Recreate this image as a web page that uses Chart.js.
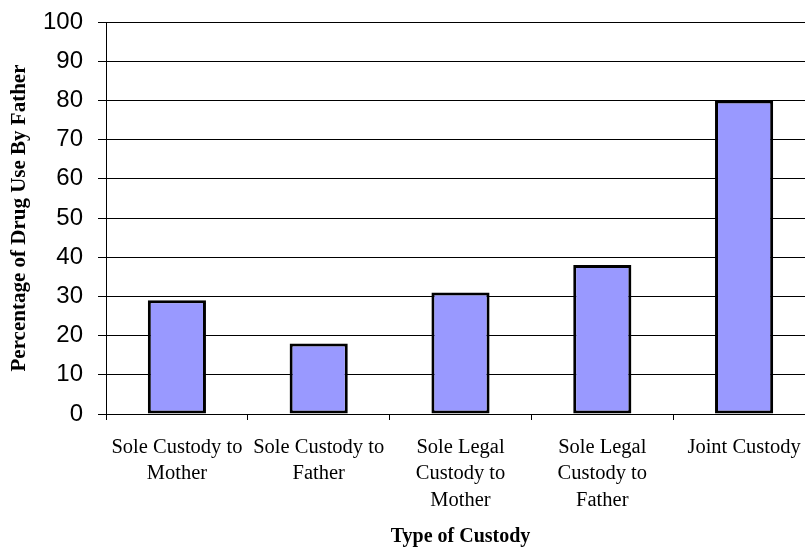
<!DOCTYPE html>
<html>
<head>
<meta charset="utf-8">
<script src="https://cdn.jsdelivr.net/npm/chart.js@4"></script>
<style>
  html, body { margin: 0; padding: 0; background: #fff; overflow: hidden; }
  #wrap { width: 805px; height: 548px; overflow: hidden; }
</style>
</head>
<body>
<div id="wrap"><canvas id="custodyChart" width="815" height="548"></canvas></div>
<script>
const categories = [
  ["Sole Custody to", "Mother"],
  ["Sole Custody to", "Father"],
  ["Sole Legal", "Custody to", "Mother"],
  ["Sole Legal", "Custody to", "Father"],
  ["Joint Custody"]
];
const drugUse = [29, 18, 31, 38, 80];
const yTicks = [0, 10, 20, 30, 40, 50, 60, 70, 80, 90, 100];

const serif = "'Liberation Serif', 'Times New Roman', serif";
const sans = "'Liberation Sans', Arial, sans-serif";

const ctx = document.getElementById("custodyChart").getContext("2d");
new Chart(ctx, {
  type: "bar",
  data: {
    labels: categories,
    datasets: [{
      data: drugUse,
      backgroundColor: "#9999ff",
      borderColor: "#000",
      borderWidth: 3,
      borderSkipped: false,
      barPercentage: 0.41,
      categoryPercentage: 1
    }]
  },
  options: {
    responsive: false,
    animation: false,
    layout: { padding: { top: 22, right: 0, left: 0, bottom: 0 } },
    plugins: {
      legend: { display: false },
      tooltip: { enabled: false }
    },
    scales: {
      x: {
        afterFit: s => { s.height = 134; s.paddingLeft = 0; s.paddingRight = 0; },
        grid: {
          display: true,
          drawOnChartArea: false,
          drawTicks: true,
          tickLength: 6,
          color: "#000",
          offset: true
        },
        border: { color: "#000", width: 1 },
        ticks: {
          color: "#000",
          padding: 14,
          maxRotation: 0,
          autoSkip: false,
          font: { family: serif, size: 20.5, lineHeight: 1.3 }
        },
        title: {
          display: true,
          text: "Type of Custody",
          color: "#000",
          padding: { top: 0, bottom: 0 },
          font: { family: serif, size: 20, weight: "bold", lineHeight: 1.1 }
        }
      },
      y: {
        min: 0,
        max: 100,
        afterFit: s => { s.width = 106; s.paddingTop = 0; s.paddingBottom = 0; },
        afterBuildTicks: s => { s.ticks = yTicks.map(v => ({ value: v })); },
        grid: {
          color: "#000",
          lineWidth: 1,
          drawTicks: true,
          tickLength: 8
        },
        border: { color: "#000", width: 1 },
        ticks: {
          color: "#000",
          padding: 15,
          font: { family: sans, size: 24 }
        },
        title: {
          display: true,
          text: "Percentage of Drug Use By Father",
          color: "#000",
          padding: { top: 7, bottom: 0 },
          font: { family: serif, size: 21, weight: "bold" }
        }
      }
    }
  }
});
</script>
</body>
</html>
